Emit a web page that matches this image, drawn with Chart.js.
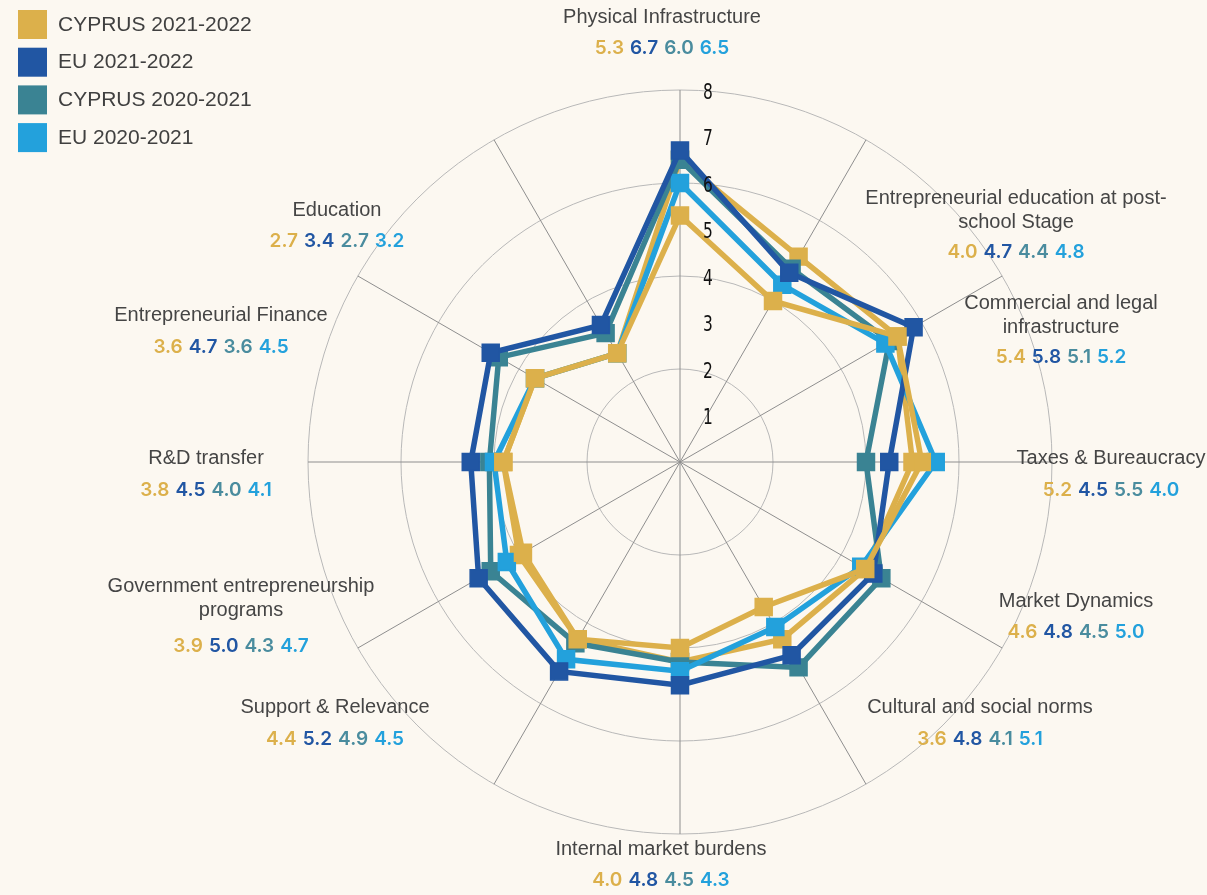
<!DOCTYPE html>
<html>
<head>
<meta charset="utf-8">
<script src="https://cdn.jsdelivr.net/npm/chart.js@4/dist/chart.umd.min.js"></script>
<style>
  html, body { margin: 0; padding: 0; background: #fcf8f1; }
  #wrap { width: 1207px; height: 895px; position: relative; }
</style>
</head>
<body>
<div id="wrap"><canvas id="c"></canvas></div>
<script>
// ---------- DATA ----------
const categories = [
  'Physical Infrastructure',
  ['Entrepreneurial education at post-', 'school Stage'],
  ['Commercial and legal', 'infrastructure'],
  'Taxes & Bureaucracy',
  'Market Dynamics',
  'Cultural and social norms',
  'Internal market burdens',
  'Support & Relevance',
  ['Government entrepreneurship', 'programs'],
  'R&D transfer',
  'Entrepreneurial Finance',
  'Education'
];
const cyprus2122 = [5.3, 4.0, 5.4, 5.2, 4.6, 3.6, 4.0, 4.4, 3.9, 3.8, 3.6, 2.7];
const eu2122     = [6.7, 4.7, 5.8, 4.5, 4.8, 4.8, 4.8, 5.2, 5.0, 4.5, 4.7, 3.4];
const cyprus2021 = [6.0, 4.4, 5.1, 5.5, 4.5, 4.1, 4.5, 4.9, 4.3, 4.0, 3.6, 2.7];
const eu2021     = [6.5, 4.8, 5.2, 4.0, 5.0, 5.1, 4.3, 4.5, 4.7, 4.1, 4.5, 3.2];
// second gold trace visible in the picture
const goldTrace2 = [6.5, 5.1, 5.4, 5.0, 4.6, 4.4, 4.3, 4.4, 4.0, 3.8, 3.6, 2.7];
const tickValues = [1, 2, 3, 4, 5, 6, 7, 8];
const seriesNames = ['CYPRUS 2021-2022', 'EU 2021-2022', 'CYPRUS 2020-2021', 'EU 2020-2021'];

// ---------- STYLE ----------
const GOLD = '#dcb04b', DARK = '#2156a3', TEAL = '#3a8393', LIGHT = '#23a1dc';
const TEAL_TEXT = '#4a8c9e';
const legendColors = [GOLD, DARK, TEAL, LIGHT];
const valueColors = [GOLD, DARK, TEAL_TEXT, LIGHT];
const valueSets = [cyprus2122, eu2122, cyprus2021, eu2021];

// label block anchors relative to radar centre (first line middle), and gap to values line
const labelLayout = [
  { dx: -18, dy: -445, gap: 31 },
  { dx: 336, dy: -264, gap: 30 },
  { dx: 381, dy: -159, gap: 30 },
  { dx: 431, dy: -4,   gap: 32 },
  { dx: 396, dy: 139,  gap: 31 },
  { dx: 300, dy: 245,  gap: 32 },
  { dx: -19, dy: 387,  gap: 31 },
  { dx: -345, dy: 245, gap: 32 },
  { dx: -439, dy: 124, gap: 36 },
  { dx: -474, dy: -4,  gap: 32 },
  { dx: -459, dy: -147, gap: 32 },
  { dx: -343, dy: -252, gap: 31 }
];

function ds(label, data, color, order) {
  return {
    label, data, order,
    borderColor: color, backgroundColor: 'rgba(0,0,0,0)', fill: false,
    borderWidth: 5.5, tension: 0,
    pointStyle: 'rect', pointRadius: 12, pointBorderWidth: 1.5,
    pointBackgroundColor: color, pointBorderColor: color
  };
}

const datasets = [
  ds(seriesNames[0], cyprus2122, GOLD, 0),
  ds(seriesNames[1], eu2122, DARK, 1),
  ds(seriesNames[2], eu2021, TEAL, 3),
  ds(seriesNames[3], cyprus2021, LIGHT, 2),
  ds('', goldTrace2, GOLD, 4)
];

const overlay = {
  id: 'overlay',
  afterDatasetsDraw(chart) {
    const ctx = chart.ctx, s = chart.scales.r;
    ctx.save();
    ctx.fillStyle = '#111';
    ctx.font = "22px 'Liberation Sans Narrow', 'DejaVu Sans Condensed', sans-serif";
    ctx.textAlign = 'center';
    ctx.textBaseline = 'middle';
    tickValues.forEach(v => {
      const d = s.getDistanceFromCenterForValue(v);
      ctx.save();
      ctx.translate(s.xCenter + 28, s.yCenter - d + 3);
      ctx.scale(0.78, 1);
      ctx.fillText(String(v), 0, 0);
      ctx.restore();
    });
    ctx.restore();
  },
  afterDraw(chart) {
    const ctx = chart.ctx, s = chart.scales.r;
    ctx.save();
    ctx.textBaseline = 'middle';
    // point labels
    categories.forEach((cat, i) => {
      const L = labelLayout[i];
      const x = s.xCenter + L.dx;
      let y = s.yCenter + L.dy;
      const lines = Array.isArray(cat) ? cat : [cat];
      ctx.font = "20px 'Liberation Sans', Arial, sans-serif";
      ctx.fillStyle = '#454545';
      ctx.textAlign = 'center';
      lines.forEach((ln, k) => ctx.fillText(ln, x, y + k * 24));
      const vy = y + (lines.length - 1) * 24 + L.gap;
      ctx.font = "600 19px Inter, 'Liberation Sans', sans-serif";
      const texts = valueSets.map(a => a[i].toFixed(1));
      const gap = 6;
      const widths = texts.map(t => ctx.measureText(t).width);
      const total = widths.reduce((a, b) => a + b, 0) + gap * (texts.length - 1);
      let cx = x - total / 2;
      ctx.textAlign = 'left';
      texts.forEach((t, k) => {
        ctx.fillStyle = valueColors[k];
        ctx.fillText(t, cx, vy);
        cx += widths[k] + gap;
      });
    });
    // legend
    ctx.font = "21px 'Liberation Sans', Arial, sans-serif";
    ctx.textAlign = 'left';
    seriesNames.forEach((name, k) => {
      const top = 10 + k * 37.7;
      ctx.fillStyle = legendColors[k];
      ctx.fillRect(18, top, 29, 29);
      ctx.fillStyle = '#404040';
      ctx.fillText(name, 58, top + 15);
    });
    ctx.restore();
  }
};

new Chart(document.getElementById('c'), {
  type: 'radar',
  data: { labels: categories, datasets },
  options: {
    responsive: true,
    maintainAspectRatio: false,
    animation: false,
    events: [],
    layout: { padding: { left: 308, top: 90, right: 155, bottom: 61 } },
    plugins: { legend: { display: false }, tooltip: { enabled: false } },
    scales: {
      r: {
        min: 0, max: 8,
        ticks: { stepSize: 1, display: false },
        grid: {
          circular: true,
          lineWidth: 1,
          color: c => (c.tick && c.tick.value % 2 === 0) ? '#b8b8b8' : 'rgba(0,0,0,0)'
        },
        angleLines: { color: '#8e8e8e', lineWidth: 1 },
        pointLabels: { display: false }
      }
    }
  },
  plugins: [overlay]
});
</script>
</body>
</html>
